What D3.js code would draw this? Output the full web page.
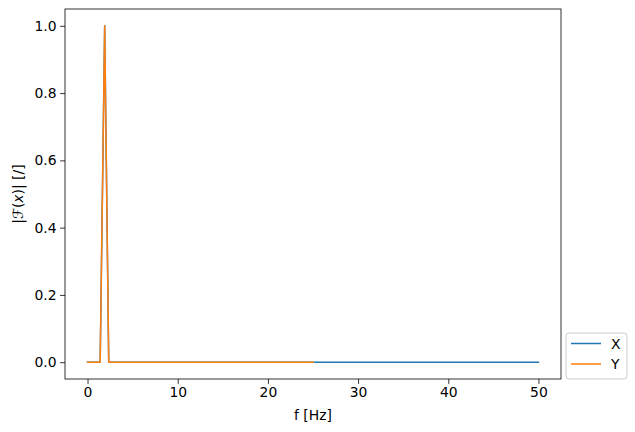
<!DOCTYPE html>
<html><head><meta charset="utf-8">
<script src="https://cdn.jsdelivr.net/npm/d3@7"></script>
<style>body{margin:0;background:#fff}text{font-family:"DejaVu Sans",sans-serif}</style>
</head><body><svg id="c" width="635" height="432"></svg>
<script>
const seriesNames = ["X", "Y"];
const colors = ["#1f77b4", "#ff7f0e"];
// breakpoints of the spectra (flat at 0 between listed points)
const xFreq = [0, 1.4, 1.9, 2.35, 50];
const xMag  = [0, 0, 1.0, 0, 0];
const yFreq = [0, 1.4, 1.9, 2.35, 25];
const yMag  = [0, 0, 1.0, 0, 0];
const xTicks = [0, 10, 20, 30, 40, 50];
const yTicks = [0.0, 0.2, 0.4, 0.6, 0.8, 1.0];

const svg = d3.select("#c");
const L = 65, R = 561, T = 9, B = 379;
const x = d3.scaleLinear().domain([-2.5, 52.5]).range([L, R]);
const y = d3.scaleLinear().domain([-0.05, 1.05]).range([B, T]);
const fs = 13.9;

const line = d3.line().x(d => x(d[0])).y(d => y(d[1]));
const data = [xFreq.map((f, i) => [f, xMag[i]]), yFreq.map((f, i) => [f, yMag[i]])];
data.forEach((d, i) => {
  svg.append("path").datum(d).attr("d", line).attr("fill", "none")
    .attr("stroke", colors[i]).attr("stroke-width", 1.5).attr("stroke-linejoin", "round").attr("stroke-linecap", "square");
});

const xa = svg.append("g").attr("transform", `translate(0,${B})`)
  .call(d3.axisBottom(x).tickValues(xTicks).tickFormat(d3.format("d")).tickSizeInner(4.9).tickSizeOuter(0).tickPadding(3.5));
const ya = svg.append("g").attr("transform", `translate(${L},0)`)
  .call(d3.axisLeft(y).tickValues(yTicks).tickFormat(d3.format(".1f")).tickSizeInner(4.9).tickSizeOuter(0).tickPadding(3.5));
[xa, ya].forEach(a => {
  a.select(".domain").remove();
  a.selectAll("line").attr("stroke", "#000").attr("stroke-width", 0.8);
  a.selectAll("text").attr("font-size", fs).attr("font-family", "DejaVu Sans").attr("fill", "#000");
});
svg.append("rect").attr("x", L).attr("y", T).attr("width", R - L).attr("height", B - T)
  .attr("fill", "none").attr("stroke", "#000").attr("stroke-width", 0.8);

svg.append("text").attr("x", (L + R) / 2).attr("y", 420).attr("text-anchor", "middle")
  .attr("font-size", fs).text("f [Hz]");
const yl = svg.append("text").attr("transform", `translate(23,${(T + B) / 2}) rotate(-90)`)
  .attr("text-anchor", "middle").attr("font-size", fs);
yl.append("tspan").text("|");
yl.append("tspan").attr("font-style", "italic").text("ℱ");
yl.append("tspan").text("(");
yl.append("tspan").attr("font-style", "italic").text("x");
yl.append("tspan").text(")| [/]");

// legend
const lg = svg.append("g").attr("transform", "translate(566,333)");
lg.append("rect").attr("width", 61).attr("height", 46).attr("rx", 3)
  .attr("fill", "#fff").attr("fill-opacity", 0.8).attr("stroke", "#ccc").attr("stroke-width", 1);
seriesNames.forEach((n, i) => {
  const yy = 10.5 + i * 20.5;
  lg.append("line").attr("x1", 5).attr("x2", 35).attr("y1", yy).attr("y2", yy)
    .attr("stroke", colors[i]).attr("stroke-width", 1.5);
  lg.append("text").attr("x", 45).attr("y", yy + 5).attr("font-size", fs).text(n);
});
</script></body></html>
